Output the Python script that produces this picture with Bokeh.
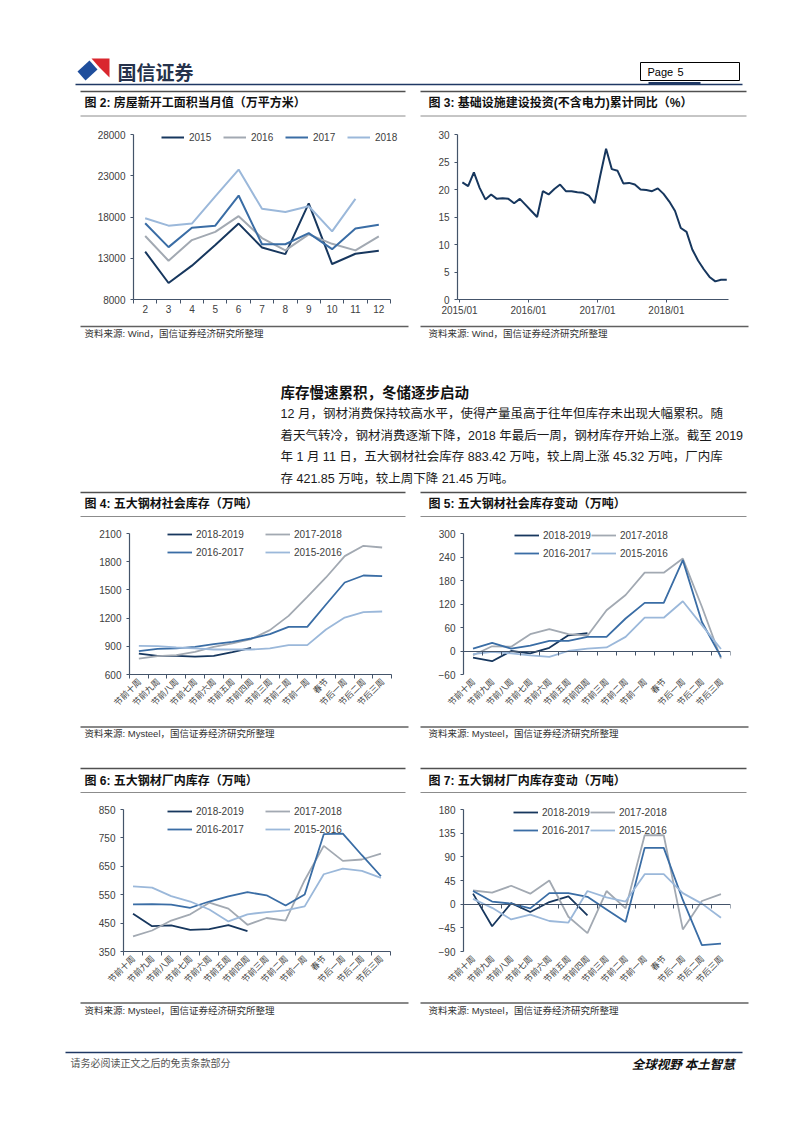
import math
from bokeh.plotting import figure
from bokeh.models import Range1d, FixedTicker, LinearAxis, Legend, LegendItem
from bokeh.layouts import column, row
from bokeh.core.properties import value
from bokeh.embed import file_html
from bokeh.resources import INLINE

# ---------------- data ----------------
# Fig 2: monthly new housing starts (10k m2)
fig2_months = ["2", "3", "4", "5", "6", "7", "8", "9", "10", "11", "12"]
fig2_years = ["2015", "2016", "2017", "2018"]
fig2_2015 = [13800, 10000, 12100, 14600, 17200, 14300, 13500, 19650, 12300, 13550, 13900]
fig2_2016 = [15700, 12700, 15200, 16200, 18100, 15450, 13950, 15900, 14750, 13950, 15650]
fig2_2017 = [17250, 14350, 16700, 16950, 20600, 14700, 14700, 16050, 14100, 16600, 17050]
fig2_2018 = [17850, 16950, 17200, 20500, 23750, 19000, 18600, 19300, 16250, 20200]

# Fig 3: infrastructure investment (ex power) cumulative YoY, 2015/01 - 2018/11
fig3_tick_labels = ["2015/01", "2016/01", "2017/01", "2018/01"]
fig3_yoy = [21.3, 20.6, 23.1, 20.3, 18.2, 19.1, 18.3, 18.4, 18.3, 17.5, 18.3, 17.2,
            16.1, 15.0, 19.7, 19.1, 20.1, 20.9, 19.7, 19.7, 19.5, 19.4, 18.9, 17.5,
            22.6, 27.4, 23.7, 23.4, 21.1, 21.2, 20.9, 20.0, 19.9, 19.7, 20.2, 19.2,
            17.8, 16.1, 13.0, 12.3, 9.1, 7.1, 5.5, 4.1, 3.3, 3.6, 3.6]

weeks = ["节前十周", "节前九周", "节前八周", "节前七周", "节前六周", "节前五周", "节前四周",
         "节前三周", "节前二周", "节前一周", "春节", "节后一周", "节后二周", "节后三周"]
season_labels = ["2018-2019", "2017-2018", "2016-2017", "2015-2016"]

# Fig 4: social inventory (10k t)
fig4_1819 = [823, 799, 799, 790, 799, 838, 883.42]
fig4_1718 = [770, 795, 806, 841, 894, 930, 976, 1072, 1224, 1426, 1632, 1859, 1969, 1951]
fig4_1617 = [848, 873, 877, 894, 923, 948, 983, 1029, 1107, 1107, 1345, 1579, 1653, 1646]
fig4_1516 = [905, 901, 887, 877, 866, 866, 866, 877, 912, 912, 1079, 1206, 1263, 1270]

# Fig 5: social inventory weekly change
fig5_1819 = [-17, -26, 0, -6, 8, 40, 45.32]
fig5_1718 = [-11, 12, 11, 43, 56, 43, 39, 104, 143, 200, 200, 236, 113, -19]
fig5_1617 = [6, 21, 6, 14, 26, 26, 36, 36, 83, 123, 123, 232, 74, -15]
fig5_1516 = [-8, -2, -6, -11, -15, 0, 6, 9, 36, 85, 85, 127, 66, 5]

# Fig 6: mill inventory
fig6_1819 = [483, 439, 442, 426, 429, 443, 421.85]
fig6_1718 = [403, 424, 459, 481, 522, 501, 444, 468, 459, 601, 722, 669, 674, 695]
fig6_1617 = [516, 517, 515, 504, 526, 544, 559, 548, 512, 551, 763, 765, 689, 615]
fig6_1516 = [579, 575, 545, 526, 498, 456, 481, 489, 495, 509, 622, 642, 634, 609]

# Fig 7: mill inventory weekly change
fig7_1819 = [20, -42, 2, -15, 4, 15, -21.45]
fig7_1718 = [26, 22, 35, 20, 45, -24, -55, 25, -8, 131, 131, -48, 6, 19]
fig7_1617 = [25, 5, 1, -8, 21, 21, 14, -10, -34, 107, 107, 8, -78, -75]
fig7_1516 = [10, -7, -29, -20, -32, -35, 25, 13, 5, 57, 57, 21, 1, -26]

# ---------------- style ----------------
DARK = "#17375E"
GREY = "#A2A9B2"
MID = "#3A6DA5"
LIGHT = "#9BB8DA"
AX = "#44546A"
TXT = "#404040"
LAT = "Liberation Sans"
CJK = "Noto Sans CJK SC"
MIX = "Liberation Sans, Noto Sans CJK SC"
PAGE_W = 802
LEFT_W = 414
RIGHT_W = PAGE_W - LEFT_W


def strip(top, bottom):
    h = bottom - top
    p = figure(width=PAGE_W, height=h, x_range=Range1d(0, PAGE_W), y_range=Range1d(h, 0),
               x_axis_type=None, y_axis_type=None, toolbar_location=None,
               output_backend="svg", min_border=0, outline_line_color=None)
    p.grid.visible = False
    return (p, top)


def put_text(s, x, y, txt, size, font=MIX, style="normal", color="#000000", align="left"):
    p, top = s
    p.text(x=[x], y=[y - top], text=[txt], text_font=value(font), text_font_size=size,
           text_font_style=style, text_color=color, text_align=align, text_baseline="middle")


def put_line(s, x0, x1, y, color, width):
    p, top = s
    p.line(x=[x0, x1], y=[y - top, y - top], line_color=color, line_width=width)


def title_bar(s, y_top, y_text, y_bot, left_title, right_title):
    put_line(s, 80, 405, y_top, "#505050", 1.6)
    put_line(s, 420, 746, y_top, "#505050", 1.6)
    put_line(s, 80, 405, y_bot, "#8C8C8C", 1.0)
    put_line(s, 420, 746, y_bot, "#8C8C8C", 1.0)
    put_text(s, 84, y_text, left_title, "12px", style="bold", color="#111111")
    put_text(s, 428, y_text, right_title, "12px", style="bold", color="#111111")


def source_bar(s, y_rule, y_text, src):
    put_line(s, 80, 408, y_rule, "#606060", 1.4)
    put_line(s, 420, 748, y_rule, "#606060", 1.4)
    put_text(s, 84, y_text, "资料来源: " + src + "，国信证券经济研究所整理", "9.5px", color="#333333")
    put_text(s, 428, y_text, "资料来源: " + src + "，国信证券经济研究所整理", "9.5px", color="#333333")


def style_axis(ax):
    ax.axis_line_color = AX
    ax.axis_line_width = 1.2
    ax.major_tick_line_color = AX
    ax.minor_tick_line_color = None
    ax.major_tick_in = 0
    ax.major_label_text_font = LAT
    ax.major_label_text_font_size = "10px"
    ax.major_label_text_color = TXT


def make_chart(w, h, bl, br, bt, bb, xr, yr, yticks, extra_top=0, extra_right=0):
    # the frame is enlarged (top/right) to hold the legend; axis bounds keep the original extent
    frame_h = h - bt - bb
    frame_w = w - bl - br
    y_end = yr[1] + extra_top * (yr[1] - yr[0]) / frame_h
    x_end = xr[1] + extra_right * (xr[1] - xr[0]) / frame_w
    p = figure(width=w, height=h, x_range=Range1d(xr[0], x_end), y_range=Range1d(yr[0], y_end),
               toolbar_location=None, output_backend="svg",
               min_border_left=bl, min_border_right=br - extra_right,
               min_border_top=bt - extra_top, min_border_bottom=bb,
               outline_line_color=None)
    p.grid.visible = False
    ya = p.yaxis[0]
    ya.ticker = FixedTicker(ticks=yticks)
    ya.bounds = (yr[0], yr[1])
    style_axis(ya)
    ya.major_tick_out = 3
    ya.major_label_standoff = 5
    return p


def category_xaxis(p, labels, rotated, zero_axis=False):
    n = len(labels)
    centers = list(range(n))
    bounds = [i - 0.5 for i in range(n + 1)]
    xa = p.below[0]
    style_axis(xa)
    xa.bounds = (-0.5, n - 0.5)
    xa.ticker = FixedTicker(ticks=centers, minor_ticks=bounds)
    xa.major_label_overrides = {i: lab for i, lab in enumerate(labels)}
    xa.major_tick_out = 0
    xa.major_tick_line_color = None
    xa.major_label_standoff = 1
    if rotated:
        xa.major_label_orientation = math.pi / 4
        xa.major_label_text_font = CJK
        xa.major_label_text_font_size = "8.5px"
    if zero_axis:
        xa.axis_line_color = None
        xa.minor_tick_line_color = None
        zax = LinearAxis(fixed_location=0, ticker=FixedTicker(ticks=bounds))
        style_axis(zax)
        zax.bounds = (-0.5, n - 0.5)
        zax.major_tick_out = 4
        zax.major_label_text_font_size = "0px"
        zax.major_label_text_alpha = 0
        p.add_layout(zax, "below")
    else:
        xa.minor_tick_line_color = AX
        xa.minor_tick_out = 4
        xa.minor_tick_in = 0


def add_legend(p, items, loc, glyph_w=25, standoff=4, item_h=18):
    lg = Legend(items=[LegendItem(label=l, renderers=[r]) for l, r in items], location=loc,
                orientation="vertical", glyph_width=glyph_w, glyph_height=item_h, label_height=item_h,
                label_standoff=standoff, spacing=0, padding=0, margin=0,
                border_line_color=None, background_fill_alpha=0,
                label_text_font=LAT, label_text_font_size="10px", label_text_color=TXT)
    p.add_layout(lg, "center")


def weekly_chart(w, h, bl, br, bt, bb, yr, yticks, series, loc1, loc2, zero_axis):
    p = make_chart(w, h, bl, br, bt, bb, (-0.5, 13.5), yr, yticks, extra_top=12)
    category_xaxis(p, weeks, rotated=True, zero_axis=zero_axis)
    colors = [DARK, GREY, MID, LIGHT]
    rs = []
    for vals, c in zip(series, colors):
        rs.append(p.line(x=list(range(len(vals))), y=vals, line_color=c, line_width=1.8))
    add_legend(p, [(season_labels[0], rs[0]), (season_labels[2], rs[2])], loc1)
    add_legend(p, [(season_labels[1], rs[1]), (season_labels[3], rs[3])], loc2)
    return p


# ---------------- strip A: header + titles of fig 2/3 ----------------
sA = strip(0, 118)
pA = sA[0]
pA.patch(x=[77, 89, 97, 85], y=[71, 60, 69, 80], fill_color="#1F4E9C", line_color=None)
pA.patch(x=[91, 109, 109, 99], y=[58, 58, 77, 67], fill_color="#D9272E", line_color=None)
put_text(sA, 117, 71, "国信证券", "19px", font=CJK, style="bold", color="#26324B")
pA.quad(left=[640], right=[739], top=[62], bottom=[80],
        fill_color=None, line_color="#000000", line_width=1)
put_text(sA, 647, 71, "Page", "11px", font=LAT, color="#000000")
put_text(sA, 677, 71, "5", "11px", font=LAT, color="#000000")
put_line(sA, 75, 742, 84, "#1F3864", 1.5)
put_line(sA, 648, 700, 83, "#1F3864", 3)
title_bar(sA, 91, 102.5, 115.5, "图 2: 房屋新开工面积当月值（万平方米）",
          "图 3: 基础设施建设投资(不含电力)累计同比（%）")

# ---------------- fig 2 ----------------
fig2 = make_chart(LEFT_W, 204, 133, 24, 16, 23, (-0.5, 10.5), (8000, 28000),
                  [8000, 13000, 18000, 23000, 28000], extra_top=12, extra_right=16)
category_xaxis(fig2, fig2_months, rotated=False)
r2 = []
for vals, c in zip([fig2_2015, fig2_2016, fig2_2017, fig2_2018], [DARK, GREY, MID, LIGHT]):
    r2.append(fig2.line(x=list(range(len(vals))), y=vals, line_color=c, line_width=2))
for k, (lab, rr) in enumerate(zip(fig2_years, r2)):
    add_legend(fig2, [(lab, rr)], (28 + 62 * k, 153), glyph_w=23, standoff=5)

# ---------------- fig 3 ----------------
fig3 = make_chart(RIGHT_W, 204, 43, 74, 16, 23, (-0.35, 46.8), (0, 30), [0, 5, 10, 15, 20, 25, 30],
                  extra_top=12)
xa3 = fig3.below[0]
style_axis(xa3)
xa3.ticker = FixedTicker(ticks=[0, 12, 24, 36])
xa3.major_label_overrides = {0: fig3_tick_labels[0], 12: fig3_tick_labels[1],
                             24: fig3_tick_labels[2], 36: fig3_tick_labels[3]}
xa3.major_tick_out = 3
xa3.major_label_standoff = 2
fig3.line(x=[i + 0.5 for i in range(len(fig3_yoy))], y=fig3_yoy, line_color=DARK, line_width=2)

# ---------------- strip C: sources + text + titles of fig 4/5 ----------------
sC = strip(322, 518)
source_bar(sC, 326, 333, "Wind")
put_text(sC, 280, 392, "库存慢速累积，冬储逐步启动", "14.5px", style="bold", color="#111111")
para = ["12 月，钢材消费保持较高水平，使得产量虽高于往年但库存未出现大幅累积。随",
        "着天气转冷，钢材消费逐渐下降，2018 年最后一周，钢材库存开始上涨。截至 2019",
        "年 1 月 11 日，五大钢材社会库存 883.42 万吨，较上周上涨 45.32 万吨，厂内库",
        "存 421.85 万吨，较上周下降 21.45 万吨。"]
for k, line in enumerate(para):
    put_text(sC, 280, 413.5 + k * 21.5, line, "12.5px", color="#1A1A1A")
title_bar(sC, 492, 503.5, 516, "图 4: 五大钢材社会库存（万吨）", "图 5: 五大钢材社会库存变动（万吨）")

# ---------------- fig 4 / 5 ----------------
fig4 = weekly_chart(LEFT_W, 204, 129, 23, 15, 48, (600, 2100), [600, 900, 1200, 1500, 1800, 2100],
                    [fig4_1819, fig4_1718, fig4_1617, fig4_1516], (38, 113), (136, 113), False)
fig5 = weekly_chart(RIGHT_W, 204, 49, 72, 15, 48, (-60, 300), [-60, 0, 60, 120, 180, 240, 300],
                    [fig5_1819, fig5_1718, fig5_1617, fig5_1516], (51, 112), (128, 112), True)

# ---------------- strip E ----------------
sE = strip(722, 794)
source_bar(sE, 726.5, 733, "Mysteel")
title_bar(sE, 768, 780, 792, "图 6: 五大钢材厂内库存（万吨）", "图 7: 五大钢材厂内库存变动（万吨）")

# ---------------- fig 6 / 7 ----------------
fig6 = weekly_chart(LEFT_W, 206, 123, 24, 15, 49, (350, 850), [350, 450, 550, 650, 750, 850],
                    [fig6_1819, fig6_1718, fig6_1617, fig6_1516], (44, 113), (142, 113), False)
fig7 = weekly_chart(RIGHT_W, 206, 49, 72, 15, 49, (-90, 180), [-90, -45, 0, 45, 90, 135, 180],
                    [fig7_1819, fig7_1718, fig7_1617, fig7_1516], (50, 112), (127, 112), True)

# ---------------- strip G: sources + footer ----------------
sG = strip(1000, 1128)
source_bar(sG, 1002.5, 1010, "Mysteel")
put_line(sG, 65, 742, 1052, "#1F3864", 1.5)
put_text(sG, 70, 1062, "请务必阅读正文之后的免责条款部分", "10px", font=CJK, color="#555555")
put_text(sG, 737, 1063, "全球视野  本土智慧", "12.5px", font=CJK, style="bold italic",
         color="#111111", align="right")

layout = column(sA[0], row(fig2, fig3), sC[0], row(fig4, fig5), sE[0], row(fig6, fig7), sG[0])

open("out.html", "w").write(file_html(layout, INLINE, title="国信证券"))
